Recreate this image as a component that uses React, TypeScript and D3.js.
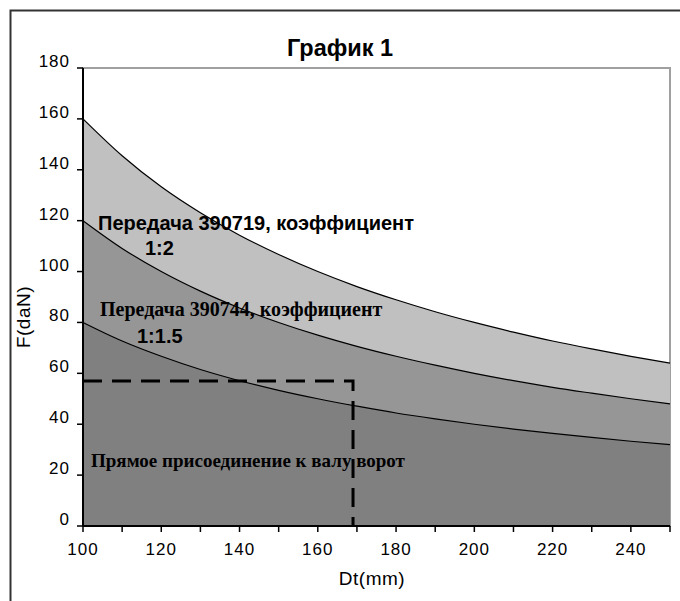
import React from "react";
import * as d3 from "d3";

const diameters = [100, 110, 120, 130, 140, 150, 160, 170, 180, 190, 200, 210, 220, 230, 240, 250];
const gear12 = [160, 145.5, 133.3, 123.1, 114.3, 106.7, 100, 94.1, 88.9, 84.2, 80, 76.2, 72.7, 69.6, 66.7, 64];
const gear115 = [120, 109.1, 100, 92.3, 85.7, 80, 75, 70.6, 66.7, 63.2, 60, 57.1, 54.5, 52.2, 50, 48];
const direct = [80, 72.7, 66.7, 61.5, 57.1, 53.3, 50, 47.1, 44.4, 42.1, 40, 38.1, 36.4, 34.8, 33.3, 32];
const xTickLabels = [100, 120, 140, 160, 180, 200, 220, 240];
const xMinorTicks = [110, 130, 150, 170, 190, 210, 230, 250];
const yTickLabels = [0, 20, 40, 60, 80, 100, 120, 140, 160, 180];
const markerPoint = { d: 169, f: 57 };

const W = 680;
const H = 601;
const left = 83, right = 670, top = 68, bottom = 526;

export default function App() {
  const x = d3.scaleLinear().domain([100, 250]).range([left, right]);
  const y = d3.scaleLinear().domain([0, 180]).range([bottom, top]);

  const series = [
    { values: gear12, fill: "#c0c0c0" },
    { values: gear115, fill: "#969696" },
    { values: direct, fill: "#808080" },
  ];
  const area = d3
    .area<number>()
    .x((_, i) => x(diameters[i]))
    .y0(y(0))
    .y1((v) => y(v))
    .curve(d3.curveMonotoneX);
  const line = d3
    .line<number>()
    .x((_, i) => x(diameters[i]))
    .y((v) => y(v))
    .curve(d3.curveMonotoneX);

  const tickFont = { fontFamily: "'Liberation Sans', Arial, sans-serif", fontSize: 17, letterSpacing: 1 } as const;
  const sansBold = { fontFamily: "'Liberation Sans', Arial, sans-serif", fontWeight: 700, fontSize: 20 } as const;
  const serifBold = { fontFamily: "'Liberation Serif', 'Times New Roman', serif", fontWeight: 700, fontSize: 20 } as const;

  return (
    <svg width={W} height={H} style={{ position: "absolute", left: 0, top: 0, background: "#fff" }}>
      <path d={`M10.5,${H} V10.5 H${W}`} fill="none" stroke="#333" strokeWidth={2} />
      <rect x={left} y={top} width={right - left} height={bottom - top} fill="#fff" stroke="#a0a0a0" strokeWidth={2} />
      {series.map((s, i) => (
        <path key={"a" + i} d={area(s.values) || ""} fill={s.fill} />
      ))}
      {series.map((s, i) => (
        <path key={"l" + i} d={line(s.values) || ""} fill="none" stroke="#000" strokeWidth={1.2} />
      ))}
      <path
        d={`M${x(100)},${y(markerPoint.f)} H${x(markerPoint.d)} V${y(0)}`}
        fill="none"
        stroke="#000"
        strokeWidth={3}
        strokeDasharray="19 10"
      />
      <line x1={left} y1={top} x2={left} y2={bottom} stroke="#000" strokeWidth={2} />
      <line x1={left} y1={bottom} x2={right} y2={bottom} stroke="#000" strokeWidth={2} />
      {yTickLabels.map((v) => (
        <g key={"y" + v}>
          <line x1={left - 6} x2={left} y1={y(v)} y2={y(v)} stroke="#000" strokeWidth={1.5} />
          <text x={left - 13} y={y(v) - 1} textAnchor="end" {...tickFont} fill="#000">
            {v}
          </text>
        </g>
      ))}
      {[...xTickLabels, ...xMinorTicks].map((v) => (
        <line key={"xt" + v} x1={x(v)} x2={x(v)} y1={bottom} y2={bottom + 6} stroke="#000" strokeWidth={1.5} />
      ))}
      {xTickLabels.map((v) => (
        <text key={"xl" + v} x={x(v)} y={bottom + 29} textAnchor="middle" {...tickFont} fill="#000">
          {v}
        </text>
      ))}
      <text x={372} y={585} textAnchor="middle" {...tickFont} fontSize={19} letterSpacing={0.5} fill="#000">
        Dt(mm)
      </text>
      <text transform="translate(30,317) rotate(-90)" textAnchor="middle" {...tickFont} fontSize={19} letterSpacing={0.5} fill="#000">
        F(daN)
      </text>
      <text x={340} y={56} textAnchor="middle" fontFamily="'Liberation Sans', Arial, sans-serif" fontWeight={700} fontSize={23.5} fill="#000">
        График 1
      </text>
      <text x={98} y={230} {...sansBold} fill="#000">Передача 390719, коэффициент</text>
      <text x={145} y={255} {...sansBold} fill="#000">1:2</text>
      <text x={100} y={316} {...serifBold} fill="#000">Передача 390744, коэффициент</text>
      <text x={137} y={343} {...sansBold} fill="#000">1:1.5</text>
      <text x={91} y={467} {...serifBold} fontSize={19} fill="#000">Прямое присоединение к валу ворот</text>
    </svg>
  );
}
